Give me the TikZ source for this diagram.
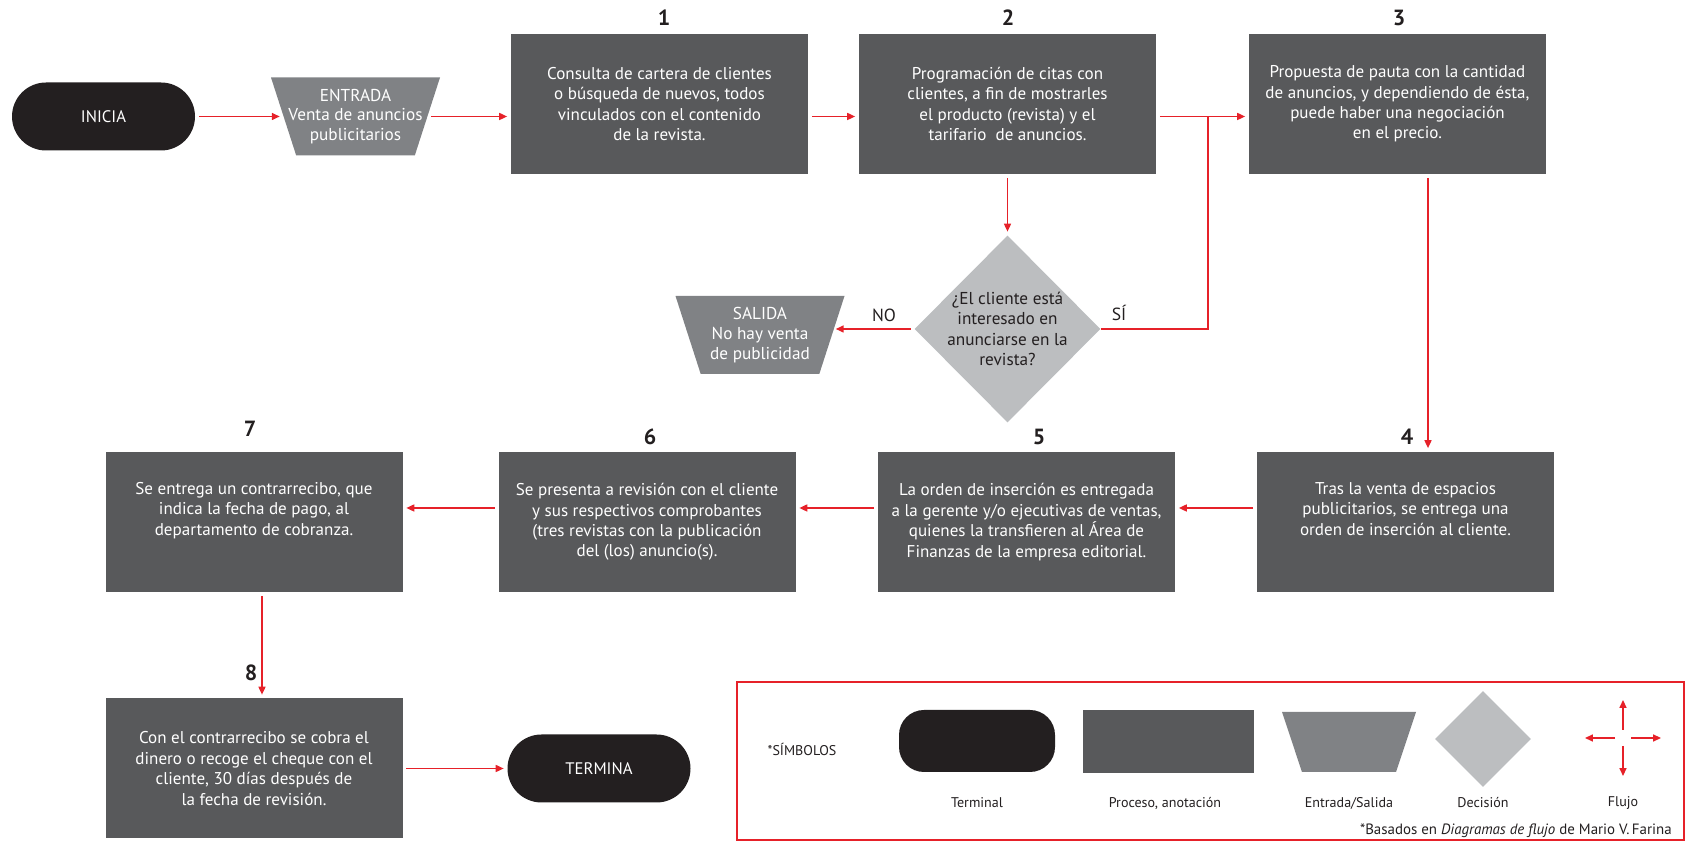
\documentclass[tikz,border=0pt]{standalone}
\usepackage{fontspec}
\setmainfont{PT Sans}
\usetikzlibrary{shapes.geometric,arrows.meta}
\definecolor{negro}{RGB}{35,31,32}
\definecolor{grisoscuro}{RGB}{88,89,91}
\definecolor{grismedio}{RGB}{128,130,133}
\definecolor{grisclaro}{RGB}{188,190,192}
\definecolor{rojo}{RGB}{230,33,41}

\begin{document}
\begin{tikzpicture}[
	terminal/.style = {rectangle, fill = negro, text = white, minimum width = 3.66cm, minimum height = 1.36cm, rounded corners = 0.68cm, font = \fontsize{9.5}{11.5}\selectfont},
	proceso/.style = {rectangle, fill = grisoscuro, text = white, minimum width = 5.94cm, minimum height = 2.8cm, align = center, font = \fontsize{9.7}{11.6}\selectfont},
	es/.style = {trapezium, trapezium angle = 78, trapezium stretches = true, shape border rotate = 180, fill = grismedio, inner sep = 1pt, minimum width = 3.38cm, minimum height = 1.56cm},
	estexto/.style = {text = white, align = center, font = \fontsize{9.8}{11.3}\selectfont},
	decision/.style = {diamond, fill = grisclaro, inner sep = 1pt, minimum width = 3.72cm, minimum height = 3.74cm},
	dectexto/.style = {text = negro, align = center, font = \fontsize{9.8}{11.6}\selectfont},
	numero/.style = {text = negro, font = \bfseries\fontsize{12.5}{12.5}\selectfont},
	rotulo/.style = {text = negro, font = \fontsize{10}{11}\selectfont},
	leyenda/.style = {text = negro, font = \fontsize{8}{10}\selectfont},
	flecha/.style = {draw = rojo, line width = 0.8pt, -{Triangle[length = 4.5pt, width = 4pt]}, shorten < = 2pt, shorten > = 2pt},
	linea/.style = {draw = rojo, line width = 0.8pt},
	marco/.style = {rectangle, draw = rojo, line width = 0.8pt, minimum width = 18.94cm, minimum height = 3.16cm}
]
	\useasboundingbox (0,0) rectangle (33.7,16.86);

	\node [terminal] (inicia) at (2.07,14.53) {INICIA};
	\node [es, label = {[estexto]center:{ENTRADA\\Venta de anuncios\\publicitarios}}] (entrada) at (7.11,14.53) {};
	\node [proceso] (p1) at (13.19,14.78) {Consulta de cartera de clientes\\o búsqueda de nuevos, todos\\vinculados con el contenido\\de la revista.};
	\node [proceso] (p2) at (20.15,14.78) {Programación de citas con\\clientes, a fin de mostrarles\\el producto (revista) y el\\tarifario \ de anuncios.};
	\node [proceso] (p3) at (27.95,14.78) {Propuesta de pauta con la cantidad\\de anuncios, y dependiendo de ésta,\\puede haber una negociación\\en el precio.};
	\node [numero] (n1) at (13.28,16.5) {1};
	\node [numero] (n2) at (20.16,16.5) {2};
	\node [numero] (n3) at (27.98,16.5) {3};

	\node [decision, label = {[dectexto]center:{¿El cliente está\\interesado en\\anunciarse en la\\revista?}}] (dec) at (20.15,10.28) {};
	\node [es, label = {[estexto]center:{SALIDA\\No hay venta\\de publicidad}}] (salida) at (15.2,10.16) {};
	\node [rotulo] (no) at (17.68,10.56) {NO};
	\node [rotulo] (si) at (22.38,10.6) {SÍ};
	\coordinate (union) at (24.16,14.53);

	\node [proceso] (p4) at (28.11,6.42) {Tras la venta de espacios\\publicitarios, se entrega una\\orden de inserción al cliente.\\\strut};
	\node [proceso] (p5) at (20.53,6.42) {La orden de inserción es entregada\\a la gerente y/o ejecutivas de ventas,\\quienes la transfieren al Área de\\Finanzas de la empresa editorial.};
	\node [proceso] (p6) at (12.94,6.42) {Se presenta a revisión con el cliente\\y sus respectivos comprobantes\\(tres revistas con la publicación\\del (los) anuncio(s).};
	\node [proceso] (p7) at (5.08,6.42) {Se entrega un contrarrecibo, que\\indica la fecha de pago, al\\departamento de cobranza.\\\strut};
	\node [numero] (n4) at (28.14,8.12) {4};
	\node [numero] (n5) at (20.78,8.12) {5};
	\node [numero] (n6) at (13.0,8.12) {6};
	\node [numero] (n7) at (5.0,8.28) {7};

	\node [proceso] (p8) at (5.08,1.49) {Con el contrarrecibo se cobra el\\dinero o recoge el cheque con el\\cliente, 30 días después de\\la fecha de revisión.};
	\node [numero] (n8) at (5.02,3.4) {8};
	\node [terminal] (termina) at (11.98,1.49) {TERMINA};

	\draw [flecha] (inicia) -- (entrada);
	\draw [flecha] (entrada.east) -- (p1.west |- entrada.east);
	\draw [flecha] (p1.east |- entrada) -- (p2.west |- entrada);
	\draw [flecha] (p2.east |- union) -- (p3.west |- union);
	\draw [flecha] (p2.south) -- (dec.north);
	\draw [linea] (dec.east) -- (dec.east -| union) -- (union);
	\draw [flecha] (dec.west) -- (salida.east |- dec.west);
	\draw [flecha] ([xshift = 0.61cm] p3.south) -- ([xshift = 0.61cm] p3.south |- p4.north);
	\draw [flecha] ([yshift = 0.28cm] p4.west) -- ([yshift = 0.28cm] p5.east);
	\draw [flecha] ([yshift = 0.28cm] p5.west) -- ([yshift = 0.28cm] p6.east);
	\draw [flecha] ([yshift = 0.28cm] p6.west) -- ([yshift = 0.28cm] p7.east);
	\draw [flecha] ([xshift = 0.16cm] p7.south) -- ([xshift = 0.16cm] p7.south |- p8.north);
	\draw [flecha] (p8) -- (termina);

	\node [marco] (marco) at (24.21,1.64) {};
	\node [leyenda] (simbolos) at (16.04,1.88) {*SÍMBOLOS};
	\node [terminal, minimum width = 3.12cm, minimum height = 1.24cm, rounded corners = 0.5cm] (lterminal) at (19.54,2.04) {};
	\node [proceso, minimum width = 3.42cm, minimum height = 1.26cm] (lproceso) at (23.37,2.03) {};
	\node [es, minimum width = 2.68cm, minimum height = 1.2cm] (les) at (26.98,2.02) {};
	\node [decision, minimum width = 1.92cm, minimum height = 1.92cm] (ldecision) at (29.66,2.08) {};
	\coordinate (lflujo) at (32.46,2.1);
	\foreach \a in {0,90,180,270}
		\draw [flecha, shorten < = 0pt, shorten > = 0pt] (lflujo) ++(\a:0.16) -- ++(\a:0.6);
	\node [leyenda] (tterminal) at (19.54,0.8) {Terminal};
	\node [leyenda] (tproceso) at (23.3,0.8) {Proceso, anotación};
	\node [leyenda] (tes) at (26.98,0.8) {Entrada/Salida};
	\node [leyenda] (tdecision) at (29.66,0.8) {Decisión};
	\node [leyenda] (tflujo) at (32.46,0.8) {Flujo};
	\node [leyenda, font = \fontsize{8.5}{10}\selectfont, anchor = east] (nota) at (33.56,0.24) {*Basados en \textit{Diagramas de flujo} de Mario V.\,Farina};
\end{tikzpicture}
\end{document}
